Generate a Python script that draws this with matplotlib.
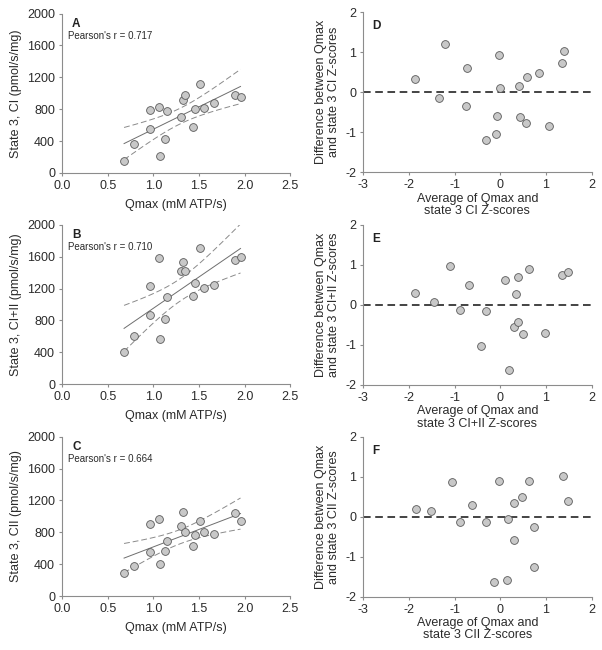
import numpy as np
import matplotlib.pyplot as plt

plt.rcParams['font.family'] = ['Liberation Sans', 'DejaVu Sans']

# Qmax (mM ATP/s), shared by panels A-C
qmax = [0.68, 0.79, 0.96, 0.96, 1.066, 1.077, 1.13, 1.153, 1.30, 1.325,
        1.35, 1.434, 1.456, 1.507, 1.555, 1.664, 1.891, 1.956]

state3_ci = [147, 366, 786, 555, 828, 218, 429, 777, 697, 916,
             979, 576, 803, 1118, 819, 874, 983, 950]
state3_ci_ii = [402, 607, 1230, 870, 1582, 573, 824, 1096, 1418, 1536,
                1418, 1109, 1272, 1715, 1205, 1251, 1565, 1598]
state3_cii = [293, 381, 904, 552, 967, 397, 569, 690, 883, 1059,
              799, 628, 766, 946, 799, 782, 1046, 946]

# Bland-Altman style panels
d_avg = [-1.874, -1.336, -1.198, -0.733, -0.754, -0.318, -0.10, -0.078, -0.028,
         -0.013, 0.408, 0.423, 0.568, 0.576, 0.837, 1.055, 1.36, 1.39]
d_diff = [0.333, -0.142, 1.217, 0.60, -0.342, -1.19, -1.04, -0.592, 0.942,
          0.108, 0.167, -0.617, -0.775, 0.392, 0.492, -0.842, 0.742, 1.033]

e_avg = [-1.866, -1.452, -1.089, -0.885, -0.682, -0.318, -0.42, 0.11, 0.198,
         0.343, 0.307, 0.387, 0.394, 0.503, 0.619, 0.983, 1.339, 1.47]
e_diff = [0.30, 0.067, 0.975, -0.117, 0.50, -0.142, -1.025, 0.625, -1.642,
          0.267, -0.558, -0.433, 0.70, -0.733, 0.908, -0.692, 0.742, 0.833]

f_avg = [-1.837, -1.503, -1.052, -0.878, -0.616, -0.318, -0.129, -0.028, 0.176,
         0.147, 0.292, 0.307, 0.481, 0.619, 0.743, 0.728, 1.375, 1.491]
f_diff = [0.20, 0.134, 0.87, -0.126, 0.301, -0.142, -1.64, 0.904, -0.059,
          -1.59, 0.351, -0.586, 0.494, 0.887, -0.251, -1.247, 1.013, 0.402]

pearson = ["0.717", "0.710", "0.664"]
left_letters = ["A", "B", "C"]
right_letters = ["D", "E", "F"]
left_ylabels = ["State 3, CI (pmol/s/mg)", "State 3, CI+II (pmol/s/mg)",
                "State 3, CII (pmol/s/mg)"]
right_names = ["CI", "CI+II", "CII"]

axis_col = '#8c8c8c'
text_col = '#2b2b2b'
fs = 9

fig = plt.figure(figsize=(6.02, 6.5), dpi=100)


def style(ax):
    for s in ['top', 'right']:
        ax.spines[s].set_visible(False)
    for s in ['left', 'bottom']:
        ax.spines[s].set_color(axis_col)
        ax.spines[s].set_linewidth(0.8)
    ax.tick_params(colors=axis_col, labelcolor=text_col, labelsize=fs,
                   length=2.5, width=0.8, direction='out', pad=2.5)


def scatter(ax, x, y):
    ax.plot(x, y, 'o', ms=5.6, mfc='#c8c8c8', mec='#5a5a5a', mew=0.6,
            zorder=3, clip_on=False)


bottoms = [0.734, 0.409, 0.083]
series = [state3_ci, state3_ci_ii, state3_cii]
for i in range(3):
    ax = fig.add_axes([0.103, bottoms[i], 0.379, 0.245])
    x = np.array(qmax)
    y = np.array(series[i], dtype=float)
    # regression line with 95% confidence band
    b, a = np.polyfit(x, y, 1)
    n = len(x)
    resid = y - (a + b * x)
    s = np.sqrt(np.sum(resid ** 2) / (n - 2))
    sxx = np.sum((x - x.mean()) ** 2)
    xx = np.linspace(x.min(), x.max(), 100)
    yy = a + b * xx
    se = s * np.sqrt(1 / n + (xx - x.mean()) ** 2 / sxx)
    t = 2.12
    ax.plot(xx, yy, color='#6e6e6e', lw=0.7, zorder=2)
    ax.plot(xx, yy + t * se, color='#8a8a8a', lw=0.7, ls=(0, (6, 3)), zorder=2)
    ax.plot(xx, yy - t * se, color='#8a8a8a', lw=0.7, ls=(0, (6, 3)), zorder=2)
    scatter(ax, x, y)
    ax.set_xlim(0, 2.5)
    ax.set_ylim(0, 2000)
    ax.set_xticks([0, 0.5, 1.0, 1.5, 2.0, 2.5])
    ax.set_xticklabels(["0.0", "0.5", "1.0", "1.5", "2.0", "2.5"])
    ax.set_yticks([0, 400, 800, 1200, 1600, 2000])
    style(ax)
    ax.set_xlabel("Qmax (mM ATP/s)", fontsize=fs, color=text_col, labelpad=5)
    ax.set_ylabel(left_ylabels[i], fontsize=fs, color=text_col, labelpad=4)
    ax.text(0.044, 0.975, left_letters[i], transform=ax.transAxes,
            fontsize=8.5, fontweight='bold', color='#222222', va='top')
    ax.text(0.026, 0.86, "Pearson's r = " + pearson[i], transform=ax.transAxes,
            fontsize=7, color=text_col, va='center')

rbottoms = [0.735, 0.408, 0.082]
rseries = [(d_avg, d_diff), (e_avg, e_diff), (f_avg, f_diff)]
for i in range(3):
    ax = fig.add_axes([0.603, rbottoms[i], 0.380, 0.246])
    ax.axhline(0, color='#111111', lw=1.1, ls=(0, (5, 3)), zorder=2)
    scatter(ax, rseries[i][0], rseries[i][1])
    ax.set_xlim(-3, 2)
    ax.set_ylim(-2, 2)
    ax.set_xticks([-3, -2, -1, 0, 1, 2])
    ax.set_yticks([-2, -1, 0, 1, 2])
    ax.set_yticklabels(["-2", "-1", "0", "1", "2"])
    ax.set_xticklabels(["-3", "-2", "-1", "0", "1", "2"])
    style(ax)
    ax.set_xlabel("Average of Qmax and\nstate 3 %s Z-scores" % right_names[i],
                  fontsize=fs, color=text_col, labelpad=1, linespacing=1.05)
    ax.set_ylabel("Difference between Qmax\nand state 3 %s Z-scores" % right_names[i],
                  fontsize=fs, color=text_col, labelpad=4, linespacing=1.05)
    ax.text(0.04, 0.95, right_letters[i], transform=ax.transAxes,
            fontsize=8.5, fontweight='bold', color='#222222', va='top')

fig.savefig("out.png", dpi=100)
